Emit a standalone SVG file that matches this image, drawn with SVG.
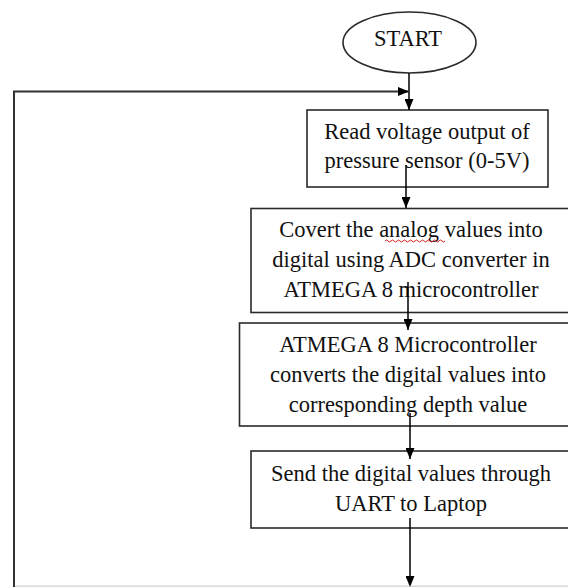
<svg xmlns="http://www.w3.org/2000/svg" width="568" height="587" viewBox="0 0 568 587">
<defs>
<marker id="ah" markerUnits="userSpaceOnUse" markerWidth="11" markerHeight="9" refX="11" refY="4.5" orient="auto">
<path d="M0,0 L11,4.5 L0,9 z" fill="#000"/>
</marker>
<style>
.box{fill:#fff;stroke:#2a2a2a;stroke-width:1.6}
.t{font-family:"Liberation Serif","Times New Roman",serif;font-size:22.5px;fill:#111;text-anchor:middle}
.c{fill:none;stroke:#000;stroke-width:1.5}
</style>
</defs>
<rect width="568" height="587" fill="#fff"/>
<g id="start">
<ellipse cx="409.5" cy="42.5" rx="66.5" ry="30.5" class="box"/>
<text x="408" y="46" class="t">START</text>
</g>
<g id="read">
<rect x="307" y="110" width="241" height="77" class="box"/>
<text x="427" y="139" class="t">Read voltage output of</text>
<text x="427" y="168" class="t">pressure sensor (0-5V)</text>
</g>
<g id="convert">
<rect x="251" y="208.5" width="322" height="104" class="box"/>
<text x="411" y="237" class="t">Covert the analog values into</text>
<text x="411" y="267" class="t">digital using ADC converter in</text>
<text x="411" y="297" class="t">ATMEGA 8 microcontroller</text>
<path d="M385,241 q1.5,-2 3,0 t3,0 t3,0 t3,0 t3,0 t3,0 t3,0 t3,0 t3,0 t3,0 t3,0 t3,0 t3,0 t3,0 t3,0 t3,0 t3,0 t3,0 t3,0 t3,0" fill="none" stroke="#e02020" stroke-width="1"/>
</g>
<g id="depth">
<rect x="239.5" y="323" width="337" height="103" class="box"/>
<text x="408" y="352" class="t">ATMEGA 8 Microcontroller</text>
<text x="408" y="382" class="t">converts the digital values into</text>
<text x="408" y="412" class="t">corresponding depth value</text>
</g>
<g id="send">
<rect x="251" y="451" width="322" height="77" class="box"/>
<text x="411" y="481" class="t">Send the digital values through</text>
<text x="411" y="511" class="t">UART to Laptop</text>
</g>
<g id="connectors">
<path d="M409,73 V110" class="c" marker-end="url(#ah)"/>
<path d="M14,587 V91.5 H409" fill="none" stroke="#333" stroke-width="2" marker-end="url(#ah)"/>
<path d="M406,165 V208" class="c" marker-end="url(#ah)"/>
<path d="M408,282 V330" class="c" marker-end="url(#ah)"/>
<path d="M410,413 V459" class="c" marker-end="url(#ah)"/>
<path d="M410,518 V587" class="c" marker-end="url(#ah)"/>
<path d="M15,586.2 H568" fill="none" stroke="#cfcfcf" stroke-width="1.2"/>
</g>
</svg>
